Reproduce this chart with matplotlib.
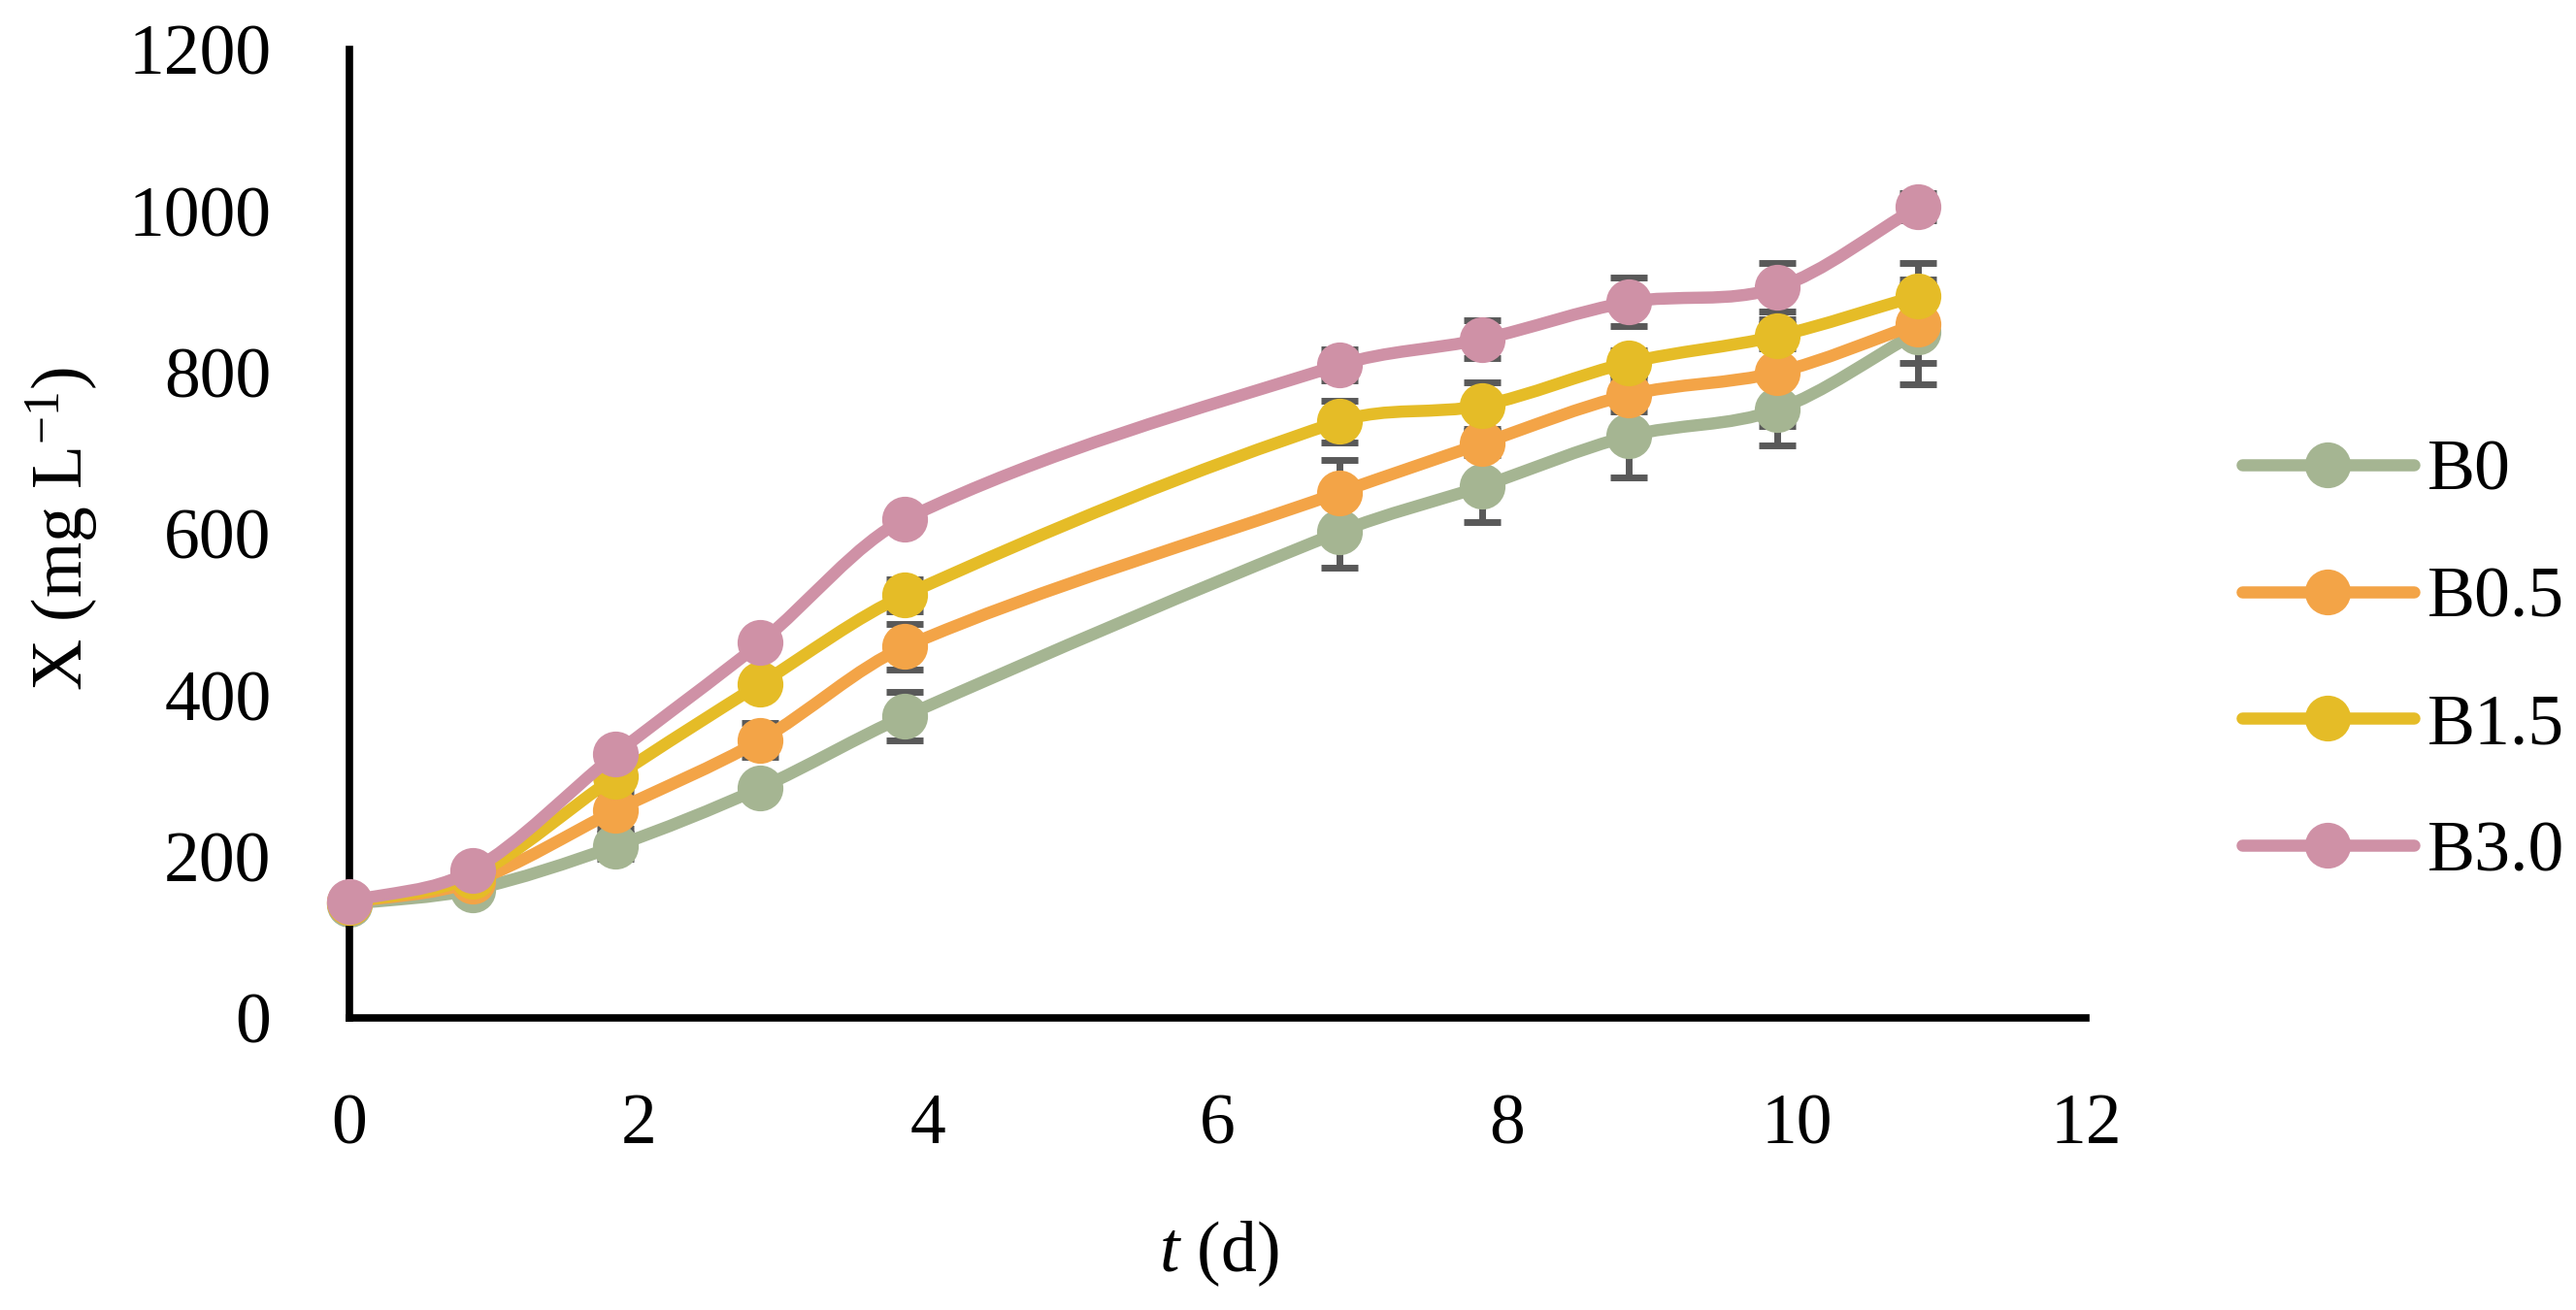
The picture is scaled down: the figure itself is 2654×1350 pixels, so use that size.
import matplotlib
matplotlib.use("Agg")
import matplotlib.pyplot as plt
from matplotlib.path import Path
from matplotlib.patches import PathPatch
from matplotlib.lines import Line2D
import numpy as np

# ---- data ----
t_days = [0, 0.85, 1.84, 2.84, 3.84, 6.84, 7.83, 8.84, 9.87, 10.84]
series_names = ["B0", "B0.5", "B1.5", "B3.0"]
B0 = [141, 159, 213, 285, 374, 602, 659, 721, 754, 850]
B0_5 = [143, 169, 257, 344, 460, 651, 712, 772, 800, 860]
B1_5 = [143, 176, 299, 414, 524, 739, 759, 812, 845, 895]
B3_0 = [144, 183, 327, 465, 618, 809, 841, 887, 905, 1005]
err_B0 = [5, 8, 16, 12, 30, 44, 44, 51, 44, 65]
err_B0_5 = [5, 8, 22, 21, 28, 40, 15, 20, 66, 48]
err_B1_5 = [5, 8, 10, 12, 20, 26, 29, 15, 15, 41]
err_B3_0 = [5, 8, 10, 10, 10, 19, 23, 30, 30, 17]
x_ticks = [0, 2, 4, 6, 8, 10, 12]
y_ticks = [0, 200, 400, 600, 800, 1000, 1200]

colors = ["#A5B592", "#F3A447", "#E5BC27", "#CF91A6"]
values = [B0, B0_5, B1_5, B3_0]
errors = [err_B0, err_B0_5, err_B1_5, err_B3_0]

plt.rcParams['font.family'] = ['Liberation Serif', 'DejaVu Serif']
plt.rcParams['mathtext.fontset'] = 'custom'
plt.rcParams['mathtext.rm'] = 'Liberation Serif'
plt.rcParams['mathtext.it'] = 'Liberation Serif:italic'

FS = 53
W, H = 2654, 1350
fig = plt.figure(figsize=(W / 100, H / 100), dpi=100)
L, R, B, T = 360, 2149, 1049, 51
ax = fig.add_axes([L / W, 1 - B / H, (R - L) / W, (B - T) / H])

ax.set_xlim(0, 12)
ax.set_ylim(0, 1200)
ax.set_xticks(x_ticks)
ax.set_yticks(y_ticks)
ax.set_xticklabels([str(v) for v in x_ticks])
ax.set_yticklabels([str(v) for v in y_ticks])
ax.tick_params(axis='both', length=0, labelsize=FS)
ax.tick_params(axis='x', pad=56)
ax.tick_params(axis='y', pad=58)
for s in ['top', 'right']:
    ax.spines[s].set_visible(False)
for s in ['left', 'bottom']:
    ax.spines[s].set_linewidth(5.5)
    ax.spines[s].set_color('black')
    ax.spines[s].set_capstyle('projecting')


def smooth_path(xs, ys):
    """Cubic Hermite curve through the data points (Catmull-Rom tangents in x)."""
    x = np.asarray(xs, float)
    y = np.asarray(ys, float)
    n = len(x)
    m = np.zeros(n)
    for i in range(n):
        if i == 0:
            m[i] = (y[1] - y[0]) / (x[1] - x[0])
        elif i == n - 1:
            m[i] = (y[-1] - y[-2]) / (x[-1] - x[-2])
        else:
            m[i] = (y[i + 1] - y[i - 1]) / (x[i + 1] - x[i - 1])
    verts = [(x[0], y[0])]
    codes = [Path.MOVETO]
    for i in range(n - 1):
        h = x[i + 1] - x[i]
        c1 = (x[i] + h / 3, y[i] + m[i] * h / 3)
        c2 = (x[i + 1] - h / 3, y[i + 1] - m[i + 1] * h / 3)
        verts += [c1, c2, (x[i + 1], y[i + 1])]
        codes += [Path.CURVE4] * 3
    return Path(verts, codes)


LW = 9
MS = 34
for vals, errs in zip(values, errors):
    ax.errorbar(t_days, vals, yerr=errs, fmt='none', ecolor='#595959',
                elinewidth=5, capsize=14, capthick=5, zorder=1.5, clip_on=False)
for i, (vals, col) in enumerate(zip(values, colors)):
    patch = PathPatch(smooth_path(t_days, vals), facecolor='none', edgecolor=col,
                      lw=LW, capstyle='round', joinstyle='round', zorder=2 + i, clip_on=False)
    ax.add_patch(patch)
    ax.plot(t_days, vals, linestyle='none', marker='o', markersize=MS,
            markerfacecolor=col, markeredgecolor=col, markeredgewidth=0,
            zorder=2.5 + i, clip_on=False)

handles = [Line2D([], [], color=c, lw=LW, marker='o', markersize=MS,
                  markeredgewidth=0, solid_capstyle='round') for c in colors]
leg = fig.legend(handles, series_names, loc='center left',
                 bbox_to_anchor=(2310 / W, 1 - 683 / H), bbox_transform=fig.transFigure,
                 frameon=False, fontsize=FS, handlelength=2.4, handletextpad=0.2,
                 labelspacing=0.86, borderpad=0, borderaxespad=0)

fig.text(1256 / W, 1 - 1292 / H, r"$t$ (d)", fontsize=FS, ha='center', va='center')
fig.text(64 / W, 1 - 545 / H, r"X (mg L$^{-1}$)", fontsize=FS, ha='center', va='center',
         rotation=90)

fig.savefig("out.png", dpi=100)
